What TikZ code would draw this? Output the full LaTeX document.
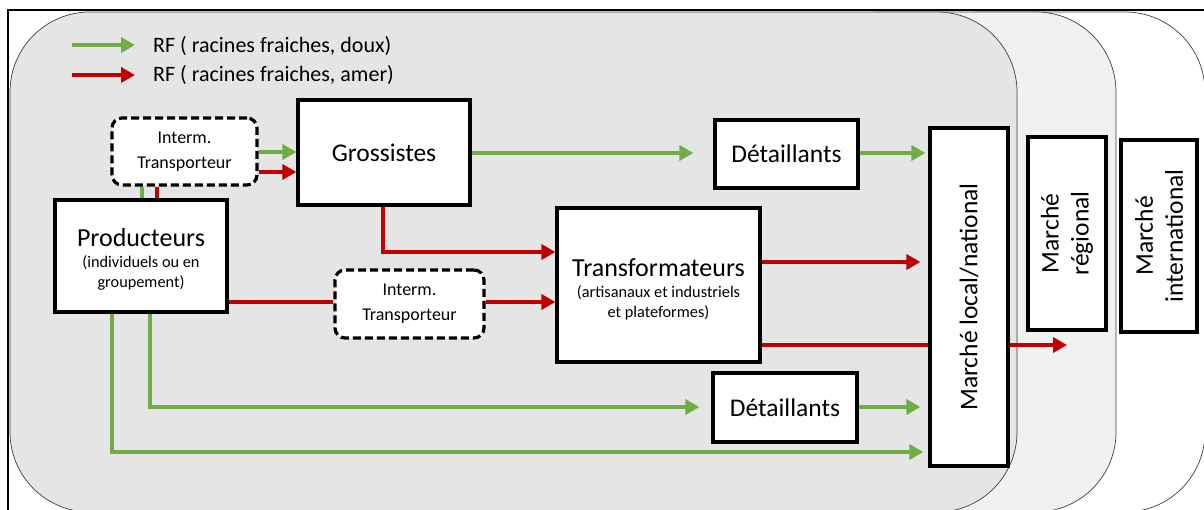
\documentclass[tikz,border=0pt]{standalone}
\usepackage{fontspec}
\setmainfont{Carlito}
\usetikzlibrary{arrows.meta}
\definecolor{vert}{HTML}{70AD47}
\definecolor{rouge}{HTML}{C00000}
\definecolor{fondA}{HTML}{E6E5E6}
\definecolor{fondB}{HTML}{F1F1F1}
\newcommand{\titre}[1]{{\fontsize{26}{30}\selectfont #1}}
\tikzset{
  panel/.style={draw=black!75, line width=0.7pt, rounded corners=80pt},
  boite/.style={draw, line width=3.2pt, fill=white, inner sep=0pt, align=center},
  interm/.style={boite, dashed, dash pattern=on 8pt off 4pt, rounded corners=10pt, font=\fontsize{18}{25}\selectfont},
  grand/.style={font=\fontsize{25.5}{30}\selectfont},
  sous/.style={font=\fontsize{16.3}{20}\selectfont, align=center, inner sep=0pt},
  legende/.style={anchor=west, font=\fontsize{22}{26}\selectfont, inner sep=0pt},
  flux/.style={line width=4pt},
  fv/.style={flux, vert},
  fr/.style={flux, rouge},
  fleche/.style={-{Triangle[length=14pt,width=15pt]}},
  vfl/.style={fv, fleche},
  rfl/.style={fr, fleche},
}
\begin{document}
\begin{tikzpicture}[x=1pt,y=-1pt]
\clip (0,0) rectangle (1204,510);
\fill[white] (0,0) rectangle (1204,510);

% market zones, from outermost to innermost
\filldraw[panel, fill=white] (900,12) rectangle (1205,512);
\filldraw[panel, fill=fondB] (800,12) rectangle (1116,512);
\filldraw[panel, fill=fondA] (10,12) rectangle (1017,512);

% outer frame
\draw[line width=2pt] (8,510) -- (8,10) -- (1204,10);

% legend
\coordinate (lg1) at (72,45);
\coordinate (lg2) at (72,75);
\draw[vfl] (lg1) -- ++(63,0);
\draw[rfl] (lg2) -- ++(63,0);
\node[legende] (txt1) at (153,46) {RF ( racines fraiches, doux)};
\node[legende] (txt2) at (153,75) {RF ( racines fraiches, amer)};

% actors
\node[interm, minimum width=145pt, minimum height=67pt] (I1) at (184.5,151.5) {Interm.\\Transporteur};
\node[boite, grand, minimum width=172pt, minimum height=105pt] (G) at (384,152.5) {Grossistes};
\node[boite, minimum width=172pt, minimum height=112pt] (P) at (141,256) {};
\node[sous] (Pt) at (141,259) {\titre{Producteurs}\\[1pt](individuels ou en\\groupement)};
\node[boite, grand, minimum width=143pt, minimum height=68pt] (D1) at (786.5,154) {Détaillants};
\node[boite, minimum width=203pt, minimum height=154pt] (T) at (658.5,285) {};
\node[sous] (Tt) at (658.5,289.5) {\titre{Transformateurs}\\[1pt](artisanaux et industriels\\et plateformes)};
\node[interm, minimum width=149pt, minimum height=68pt] (I2) at (409.5,304) {Interm.\\Transporteur};
\node[boite, grand, minimum width=144pt, minimum height=69pt] (D2) at (785,407.5) {Détaillants};

% markets
\node[boite, minimum width=78pt, minimum height=338pt] (ML) at (969,297) {};
\node[rotate=90, grand] (MLt) at (ML.center) {Marché local/national};
\node[boite, minimum width=78pt, minimum height=193pt] (MR) at (1067,233.5) {};
\node[rotate=90, align=center, font=\fontsize{25.5}{30}\selectfont] (MRt) at (MR.center) {Marché\\régional};
\node[boite, minimum width=76pt, minimum height=192pt] (MI) at (1159,236) {};
\node[rotate=90, align=center, font=\fontsize{25.5}{30}\selectfont] (MIt) at (MI.center) {Marché\\international};

% flows: transporteur links
\draw[fv] (P.north -| 142,0) -- (I1.south -| 142,0);
\draw[fr] (P.north -| 157,0) -- (I1.south -| 157,0);
\draw[vfl] (I1.east |- 0,152) -- (G.west |- 0,152);
\draw[rfl] (I1.east |- 0,172) -- (G.west |- 0,172);

% wholesalers
\draw[vfl, shorten >=20pt] (G.east |- 0,153) -- (D1.west |- 0,153);
\draw[vfl, shorten >=3pt] (D1.east |- 0,153) -- (ML.west |- 0,153);
\draw[rfl] (G.south -| 383,0) |- (T.west |- 0,252);

% producers to processors
\draw[fr] (P.east |- 0,302) -- (I2.west |- 0,302);
\draw[rfl] (I2.east |- 0,302) -- (T.west |- 0,302);

% processors to markets
\draw[rfl, shorten >=8pt] (T.east |- 0,262) -- (ML.west |- 0,262);
\draw[fr] (T.east |- 0,345) -- (ML.west |- 0,345);
\coordinate (versMR) at (1067,345);
\draw[rfl] (ML.east |- 0,345) -- (versMR);

% producers direct to retail and market
\draw[vfl, shorten >=12pt] (P.south -| 150,0) |- (D2.west |- 0,407);
\draw[vfl, shorten >=8pt] (D2.east |- 0,407) -- (ML.west |- 0,407);
\draw[vfl, shorten >=5pt] (P.south -| 112,0) |- (ML.west |- 0,452);
\end{tikzpicture}
\end{document}
